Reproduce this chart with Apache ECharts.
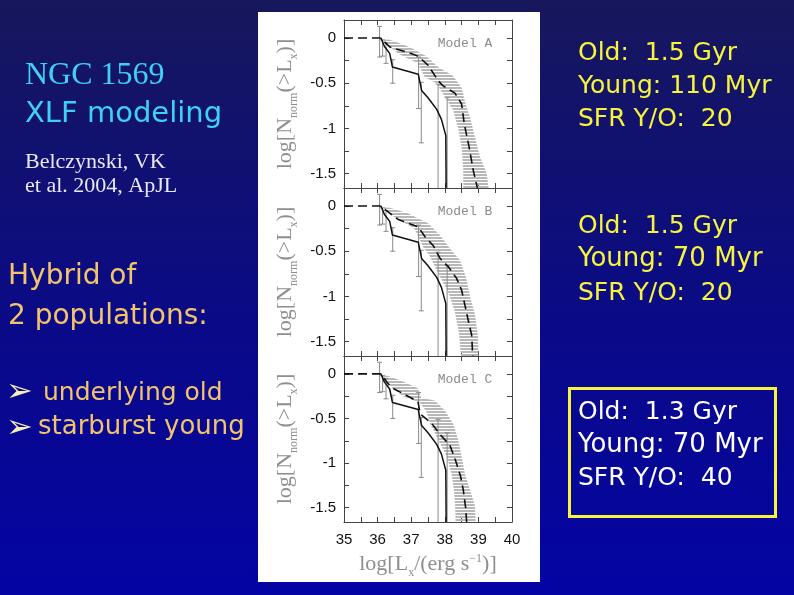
<!DOCTYPE html>
<html>
<head>
<meta charset="utf-8">
<script src="https://cdn.jsdelivr.net/npm/echarts@6/dist/echarts.min.js"></script>
<style>
  html, body { margin: 0; padding: 0; }
  #main {
    width: 794px;
    height: 595px;
    background: linear-gradient(180deg, #17175c 0%, #0a0a88 55%, #0404a4 100%);
  }
</style>
</head>
<body>
<div id="main"></div>
<script>
// axis ticks / labels
const xLabels = [35, 36, 37, 38, 39, 40];
const yLabels = [0, -0.5, -1, -1.5];
const yTicks = [0, -0.25, -0.5, -0.75, -1, -1.25, -1.5];
const modelNames = ['Model A', 'Model B', 'Model C'];

// observed XLF (same in every panel) and its error bars [x, top, bottom]
const observed = [[36.1, 0], [36.2, -0.09], [36.36, -0.17], [36.44, -0.32], [37.21, -0.4], [37.31, -0.58],
  [37.5, -0.66], [37.76, -0.79], [37.9, -0.9], [38.03, -1.08], [38.04, -1.66]];
const obsErrors = [[36.06, 0.13, -0.21], [36.15, -0.02, -0.2], [36.25, -0.05, -0.28], [36.45, -0.24, -0.5],
  [37.22, -0.21, -0.78], [37.3, -0.49, -1.16], [37.8, -0.51, -1.66], [38.07, -0.66, -1.66]];

// model curves (dashed)
const modelA = [[35, 0], [36.08, 0], [36.37, -0.1], [37.0, -0.17], [37.2, -0.2], [37.5, -0.3], [37.8, -0.47],
  [37.95, -0.53], [38.3, -0.61], [38.5, -0.73], [38.58, -0.95], [38.72, -1.2], [38.85, -1.47], [38.97, -1.66]];
const modelB = [[35, 0], [36.08, 0], [36.37, -0.08], [36.62, -0.15], [37.21, -0.23], [37.41, -0.34], [37.66, -0.44],
  [37.86, -0.58], [38.1, -0.67], [38.35, -0.8], [38.5, -0.93], [38.6, -1.1], [38.7, -1.27], [38.8, -1.43], [38.83, -1.66]];
const modelC = [[35, 0], [36.08, 0], [36.4, -0.15], [36.8, -0.23], [37.2, -0.31], [37.27, -0.45], [37.6, -0.55],
  [37.86, -0.68], [38.15, -0.8], [38.32, -0.97], [38.47, -1.15], [38.55, -1.3], [38.62, -1.5], [38.65, -1.66]];

// model spread (hatched band): left and right edges
const bandALeft = [[36.15, -0.02], [36.6, -0.17], [37.2, -0.28], [37.4, -0.43], [37.75, -0.5], [38.0, -0.65],
  [38.25, -0.8], [38.4, -1.0], [38.5, -1.21], [38.55, -1.45], [38.55, -1.66]];
const bandARight = [[36.37, -0.02], [36.95, -0.1], [37.45, -0.2], [37.8, -0.32], [38.25, -0.42], [38.5, -0.55],
  [38.62, -0.73], [38.75, -0.88], [38.9, -1.1], [39.05, -1.32], [39.25, -1.5], [39.3, -1.66]];
const bandBLeft = [[36.17, -0.02], [36.5, -0.12], [37.1, -0.25], [37.35, -0.45], [37.55, -0.55], [37.85, -0.78],
  [38.1, -0.95], [38.3, -1.17], [38.42, -1.4], [38.48, -1.66]];
const bandBRight = [[36.37, -0.02], [36.9, -0.08], [37.5, -0.19], [37.85, -0.32], [38.15, -0.47], [38.45, -0.6],
  [38.64, -0.8], [38.75, -1.0], [38.9, -1.2], [38.99, -1.45], [39.0, -1.66]];
const bandCLeft = [[36.14, -0.02], [36.45, -0.16], [36.75, -0.25], [37.25, -0.32], [37.45, -0.42], [37.56, -0.56],
  [37.81, -0.74], [38.06, -0.93], [38.2, -1.12], [38.27, -1.3], [38.31, -1.48], [38.32, -1.66]];
const bandCRight = [[36.3, -0.02], [36.65, -0.07], [37.2, -0.16], [37.3, -0.27], [37.7, -0.3], [38.0, -0.41],
  [38.25, -0.56], [38.4, -0.74], [38.5, -0.93], [38.6, -1.12], [38.75, -1.3], [38.9, -1.48], [38.92, -1.66]];

const models = [modelA, modelB, modelC];
const bands = [[bandALeft, bandARight], [bandBLeft, bandBRight], [bandCLeft, bandCRight]];

// hatch pattern for the band
const hatch = document.createElement('canvas');
hatch.width = 4;
hatch.height = 3;
const hctx = hatch.getContext('2d');
hctx.fillStyle = '#b8b8b8';
hctx.fillRect(0, 0, 4, 2);

const chart = echarts.init(document.getElementById('main'), null, {renderer: 'canvas'});

const grids = [
  {left: 344, top: 20, width: 168, height: 168},
  {left: 344, top: 188, width: 168, height: 168},
  {left: 344, top: 356, width: 168, height: 166}
];

const axisLine = {show: true, onZero: false, lineStyle: {color: '#444', width: 1}};
const grayText = '#8e8e8e';

const yName = '{a|log[N}{s|norm}{a|(>L}{s|x}{a|)]}';
const nameRich = {
  a: {fontFamily: 'Liberation Serif', fontSize: 22, color: grayText, verticalAlign: 'bottom', padding: [0, 0, 4, 0]},
  s: {fontFamily: 'Liberation Serif', fontSize: 12, color: grayText, verticalAlign: 'bottom'},
  p: {fontFamily: 'Liberation Serif', fontSize: 12, color: grayText, verticalAlign: 'top'}
};

const xAxis = [];
const yAxis = [];
const series = [];

grids.forEach((g, i) => {
  const last = i === grids.length - 1;
  xAxis.push({
    gridIndex: i, type: 'value', position: 'bottom', min: 35, max: 40, interval: 0.5,
    axisLine, splitLine: {show: false},
    axisTick: {inside: true, length: 5, lineStyle: {color: '#444'}},
    axisLabel: {show: last, customValues: xLabels, margin: 10, color: '#111', fontSize: 15, fontFamily: 'Liberation Sans'},
    name: last ? '{a|log[L}{s|x}{a|/(erg s}{p|−1}{a|)]}' : '',
    nameLocation: 'middle', nameGap: 31,
    nameTextStyle: {rich: nameRich}
  });
  xAxis.push({
    gridIndex: i, type: 'value', position: 'top', min: 35, max: 40, interval: 0.5,
    axisLine, splitLine: {show: false},
    axisTick: {inside: true, length: 5, lineStyle: {color: '#444'}},
    axisLabel: {show: false}
  });
  yAxis.push({
    gridIndex: i, type: 'value', position: 'left', min: -1.66, max: 0.2,
    axisLine, splitLine: {show: false},
    axisTick: {inside: true, length: 5, customValues: yTicks, lineStyle: {color: '#444'}},
    axisLabel: {customValues: yLabels, margin: 8, color: '#111', fontSize: 15, fontFamily: 'Liberation Sans'},
    name: yName, nameLocation: 'middle', nameGap: 44, nameRotate: 90,
    nameTextStyle: {rich: nameRich}
  });
  yAxis.push({
    gridIndex: i, type: 'value', position: 'right', min: -1.66, max: 0.2,
    axisLine, splitLine: {show: false},
    axisTick: {inside: true, length: 5, customValues: yTicks, lineStyle: {color: '#444'}},
    axisLabel: {show: false}
  });

  const [bl, br] = bands[i];
  const poly = bl.concat(br.slice().reverse());
  series.push({
    type: 'custom', xAxisIndex: 2 * i, yAxisIndex: 2 * i, z: 1, silent: true,
    data: poly,
    renderItem(params, api) {
      if (params.dataIndex !== 0) return null;
      return {
        type: 'polygon',
        shape: {points: poly.map(p => api.coord(p))},
        style: {fill: {image: hatch, repeat: 'repeat'}}
      };
    }
  });
  series.push({
    type: 'custom', xAxisIndex: 2 * i, yAxisIndex: 2 * i, z: 2, silent: true,
    data: obsErrors,
    encode: {x: 0, y: [1, 2]},
    renderItem(params, api) {
      const x = api.value(0);
      const hi = api.coord([x, api.value(1)]);
      const lo = api.coord([x, api.value(2)]);
      const st = {stroke: '#8a8a8a', lineWidth: 1};
      const children = [
        {type: 'line', shape: {x1: hi[0], y1: hi[1], x2: lo[0], y2: lo[1]}, style: st},
        {type: 'line', shape: {x1: hi[0] - 2.5, y1: hi[1], x2: hi[0] + 2.5, y2: hi[1]}, style: st}
      ];
      if (api.value(2) > -1.6) {
        children.push({type: 'line', shape: {x1: lo[0] - 2.5, y1: lo[1], x2: lo[0] + 2.5, y2: lo[1]}, style: st});
      }
      return {type: 'group', children};
    }
  });
  series.push({
    type: 'line', xAxisIndex: 2 * i, yAxisIndex: 2 * i, z: 3, silent: true,
    data: models[i], symbol: 'none',
    lineStyle: {color: '#111', width: 1.6, type: [9, 5]}
  });
  series.push({
    type: 'line', xAxisIndex: 2 * i, yAxisIndex: 2 * i, z: 4, silent: true,
    data: observed, symbol: 'none',
    lineStyle: {color: '#111', width: 1.5}
  });
});

function txt(x, y, text, font, fill) {
  return {type: 'text', x, y, style: {text, font, fill, verticalAlign: 'middle'}};
}

const comic = 'DejaVu Sans';
const graphic = [
  {type: 'rect', z: -1, shape: {x: 258, y: 12, width: 282, height: 570}, style: {fill: '#ffffff'}},
  txt(25, 76, 'NGC 1569', '32px "Liberation Serif"', '#3fd0f2'),
  txt(25, 114, 'XLF modeling', '29px "' + comic + '"', '#3fd0f2'),
  txt(25, 162, 'Belczynski, VK', '22px "Liberation Serif"', '#e8e8f6'),
  txt(25, 186, 'et al. 2004, ApJL', '22px "Liberation Serif"', '#e8e8f6'),
  txt(8, 277, 'Hybrid of', '28px "' + comic + '"', '#f3c46c'),
  txt(8, 317, '2 populations:', '28px "' + comic + '"', '#f3c46c'),
  txt(6, 393, '➢', '32px "DejaVu Sans"', '#f3eeb8'),
  txt(43, 393, 'underlying old', '25px "' + comic + '"', '#f3c46c'),
  txt(6, 429, '➢', '32px "DejaVu Sans"', '#f3eeb8'),
  txt(38, 427, 'starburst young', '26px "' + comic + '"', '#f3c46c'),
  txt(578, 53, 'Old:  1.5 Gyr', '25px "' + comic + '"', '#f6f43c'),
  txt(578, 86, 'Young: 110 Myr', '25px "' + comic + '"', '#f6f43c'),
  txt(578, 119, 'SFR Y/O:  20', '25px "' + comic + '"', '#f6f43c'),
  txt(578, 226, 'Old:  1.5 Gyr', '25px "' + comic + '"', '#f6f43c'),
  txt(578, 259, 'Young: 70 Myr', '26px "' + comic + '"', '#f6f43c'),
  txt(578, 293, 'SFR Y/O:  20', '25px "' + comic + '"', '#f6f43c'),
  {type: 'rect', shape: {x: 569.5, y: 388.5, width: 206, height: 128}, style: {fill: 'none', stroke: '#f6f43c', lineWidth: 3}},
  txt(578, 412, 'Old:  1.3 Gyr', '25px "' + comic + '"', '#ffffff'),
  txt(578, 445, 'Young: 70 Myr', '26px "' + comic + '"', '#ffffff'),
  txt(578, 478, 'SFR Y/O:  40', '25px "' + comic + '"', '#ffffff')
];
modelNames.forEach((m, i) => {
  graphic.push({
    type: 'text', x: 465, y: grids[i].top + 24,
    style: {text: m, font: '13px "Liberation Mono"', fill: '#8a8a8a', align: 'center', verticalAlign: 'middle'}
  });
});

chart.setOption({
  backgroundColor: 'transparent',
  animation: false,
  grid: grids,
  xAxis,
  yAxis,
  series,
  graphic
});
</script>
</body>
</html>
